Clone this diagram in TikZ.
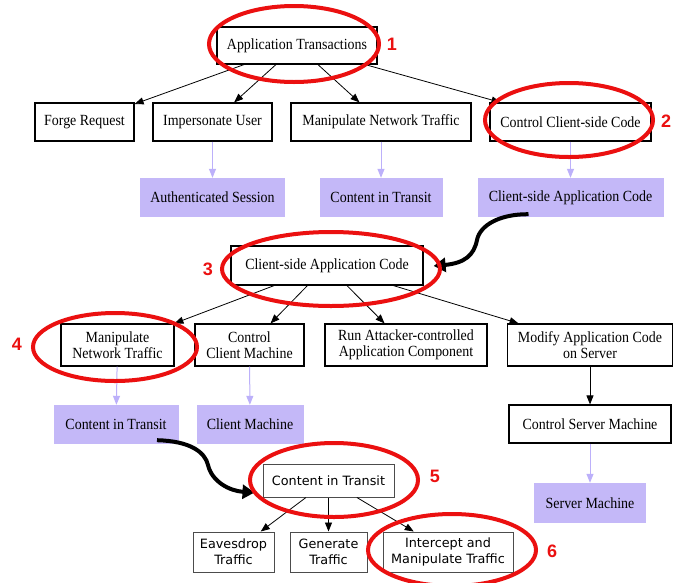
\documentclass[tikz,border=0pt]{standalone}
\usepackage{fontspec}
\setmainfont[FakeStretch=0.9]{Liberation Serif}
\newfontfamily\dvs{DejaVu Sans}
\newfontfamily\lsans{Liberation Sans}
\usetikzlibrary{arrows.meta,calc}
\definecolor{lav}{RGB}{196,184,248}
\definecolor{lavedge}{RGB}{188,176,250}
\definecolor{redmark}{RGB}{235,16,16}
\begin{document}
\begin{tikzpicture}[x=1pt,y=-1pt,
  box/.style={draw=black, line width=1.2pt, fill=white, inner sep=0pt, minimum height=38pt, align=center, font=\fontsize{15.5}{16}\selectfont},
  pbox/.style={fill=lav, inner sep=0pt, minimum height=39pt, align=center, font=\fontsize{15.5}{16}\selectfont},
  sbox/.style={draw=gray!60!black, line width=1pt, fill=white, inner sep=0pt, minimum height=40pt, align=center, font=\dvs\fontsize{12.8}{16}\selectfont},
  edge/.style={-{Triangle[length=9pt,width=7pt]}, line width=0.8pt},
  pedge/.style={draw=lavedge, -{Triangle[length=9pt,width=7pt]}, line width=1pt},
  bigarrow/.style={-{Triangle[length=12pt,width=14pt]}, line width=4pt},
  redring/.style={draw=redmark, line width=4pt},
  redlabel/.style={text=redmark, font=\lsans\bfseries\fontsize{18}{18}\selectfont}
]
\useasboundingbox (0,0) rectangle (683,582);
\fill[white] (0,0) rectangle (683,582);

% top tree
\node[box, minimum width=160pt, minimum height=37pt] (at) at (297,45.5) {Application Transactions};
\node[box, minimum width=99pt] (fr) at (84.5,122) {Forge Request};
\node[box, minimum width=119pt] (iu) at (212.5,122) {Impersonate User};
\node[box, minimum width=180pt] (mn) at (381,122) {Manipulate Network Traffic};
\node[box, minimum width=161pt] (cc) at (570.5,122) {Control Client-side Code};
\node[pbox, minimum width=145pt] (as) at (212.5,197.5) {Authenticated Session};
\node[pbox, minimum width=123pt] (ct) at (381,197.5) {Content in Transit};
\node[pbox, minimum width=186pt] (ca) at (570.5,197.5) {Client-side Application Code};

\draw[edge] (at) -- (fr);
\draw[edge] (at) -- (iu);
\draw[edge] (at) -- (mn);
\draw[edge] (at) -- (cc);
\draw[pedge] (iu) -- (as);
\draw[pedge] (mn) -- (ct);
\draw[pedge] (cc) -- (ca);

% middle tree
\node[box, minimum width=192pt, minimum height=39pt] (c3) at (327,265.5) {Client-side Application Code};
\node[box, minimum width=113pt, minimum height=42pt] (m4) at (117.5,345) {Manipulate\\Network Traffic};
\node[box, minimum width=109pt, minimum height=42pt] (cm) at (249.5,345) {Control\\Client Machine};
\node[box, minimum width=162pt, minimum height=42pt] (ra) at (406,345) {Run Attacker-controlled\\Application Component};
\node[box, minimum width=165pt, minimum height=42pt] (ma) at (590,345) {Modify Application Code\\on Server};
\node[pbox, minimum width=125pt] (ct2) at (116,424.5) {Content in Transit};
\node[pbox, minimum width=107pt] (cl) at (250,424.5) {Client Machine};
\node[box, minimum width=162pt] (cs) at (590,424) {Control Server Machine};
\node[pbox, minimum width=112pt, minimum height=40pt] (sm) at (590,503) {Server Machine};

\draw[edge] (c3) -- (m4);
\draw[edge] (c3) -- (cm);
\draw[edge] (c3) -- (ra);
\draw[edge] (c3) -- (ma);
\draw[edge] (ma) -- (cs);
\draw[pedge] (m4) -- (ct2);
\draw[pedge] (cm) -- (cl);
\draw[pedge] (cs) -- (sm);

% bottom tree
\node[sbox, minimum width=131pt, minimum height=33pt] (c5) at (328.5,480.5) {Content in Transit};
\node[sbox, minimum width=81pt] (ea) at (233.5,552) {Eavesdrop\\Traffic};
\node[sbox, minimum width=77pt] (ge) at (328.5,552) {Generate\\Traffic};
\node[sbox, minimum width=130pt] (im) at (448,552) {Intercept and\\Manipulate Traffic};

\draw[edge] (c5) -- (ea);
\draw[edge] (c5) -- (ge);
\draw[edge] (c5) -- (im);

% thick curved connectors
\draw[bigarrow] ([xshift=-42pt,yshift=3pt]ca.south) .. controls (500,214) and (480,225) .. (477,240)
  .. controls (474,255) and (465,263) .. ([xshift=10pt,yshift=-0.5pt]c3.east);
\draw[bigarrow] ([xshift=41pt,yshift=4pt]ct2.south) .. controls (190,441) and (205,452) .. (208,465)
  .. controls (212,482) and (230,491) .. ([xshift=-8pt,yshift=-12pt]c5.west);

% red highlight rings
\draw[redring] (294,44) ellipse [x radius=85pt, y radius=38pt];
\draw[redring] (569,120) ellipse [x radius=84pt, y radius=37pt];
\draw[redring] (331,269) ellipse [x radius=109pt, y radius=37pt];
\draw[redring] (115,347) ellipse [x radius=82pt, y radius=34pt];
\draw[redring] (334,480) ellipse [x radius=84pt, y radius=37pt];
\draw[redring] (452,550) ellipse [x radius=84pt, y radius=36pt];

\node[redlabel] (l1) at (392,44) {1};
\node[redlabel] (l2) at (666,121) {2};
\node[redlabel] (l3) at (208,269) {3};
\node[redlabel] (l4) at (17,344) {4};
\node[redlabel] (l5) at (435,476) {5};
\node[redlabel] (l6) at (552,551) {6};
\end{tikzpicture}
\end{document}
